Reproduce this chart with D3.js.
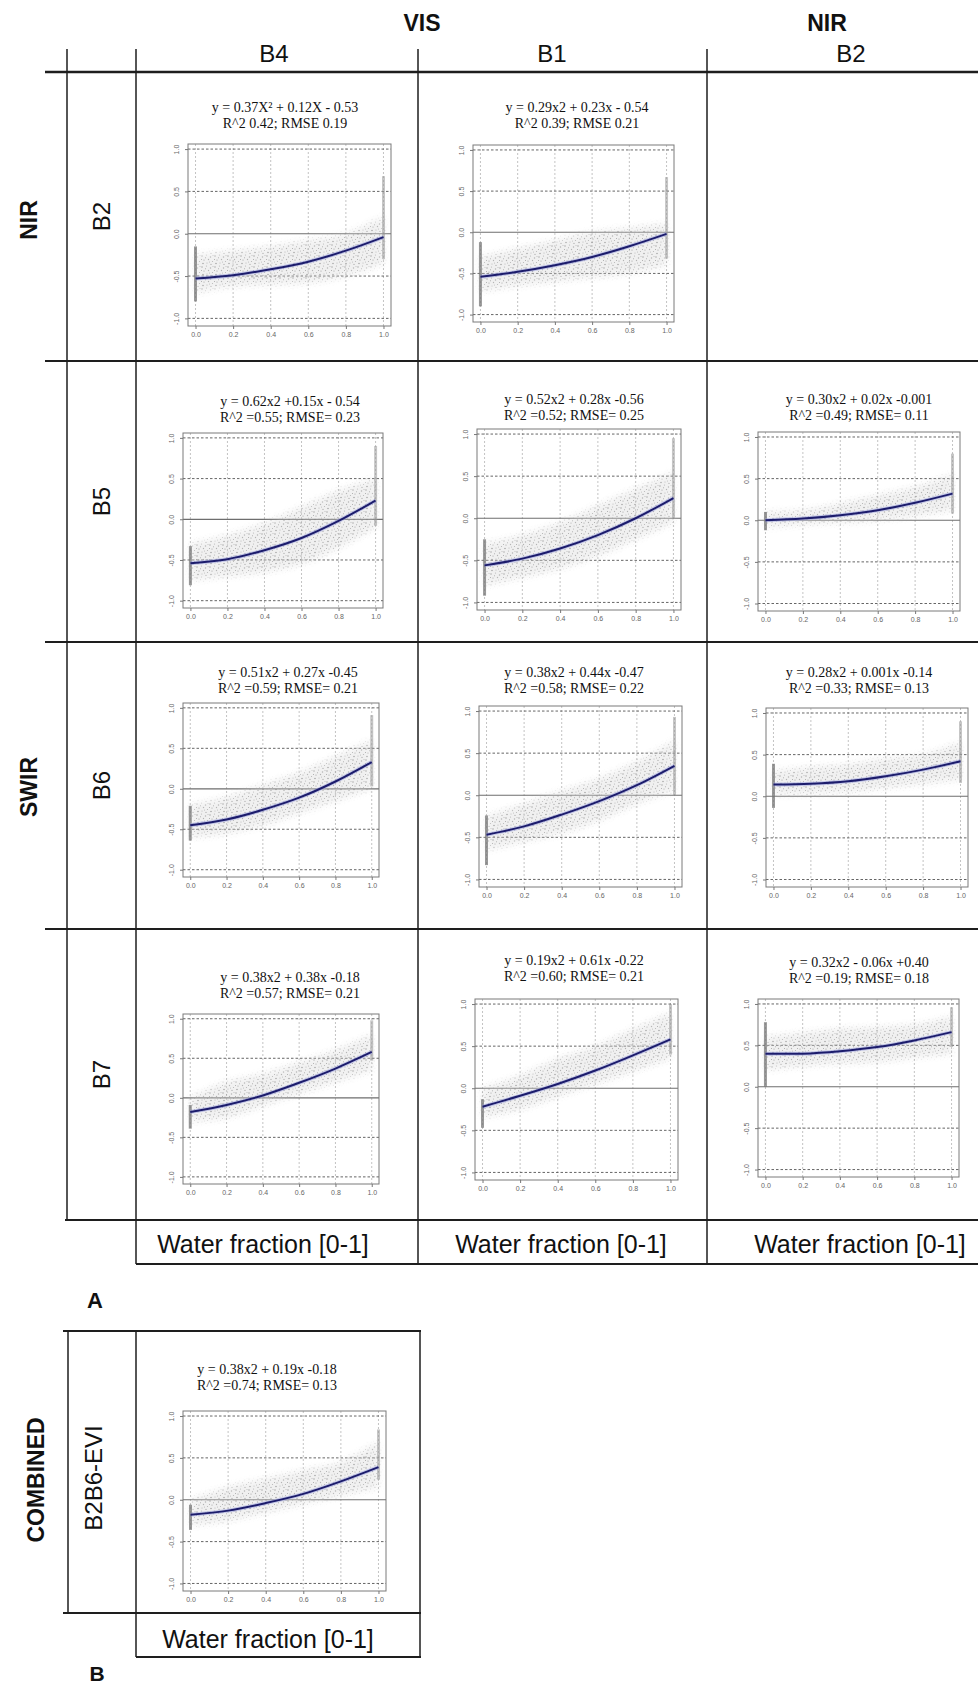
<!DOCTYPE html>
<html>
<head>
<meta charset="utf-8">
<script src="https://cdn.jsdelivr.net/npm/d3@7/dist/d3.min.js"></script>
<style>
  body { margin: 0; background: #fff; }
  svg { display: block; }
</style>
</head>
<body>
<svg id="fig" width="978" height="1688"></svg>
<script>
// ---- values ----
var xKnots = [0, 0.2, 0.4, 0.6, 0.8, 1.0];
var xTickLabels = ["0.0", "0.2", "0.4", "0.6", "0.8", "1.0"];
var yTickValues = [-1, -0.5, 0, 0.5, 1];
var yTickLabels = ["-1.0", "-0.5", "0.0", "0.5", "1.0"];

var columnGroups = ["VIS", "NIR"];
var columnBands = ["B4", "B1", "B2"];
var rowGroups = ["NIR", "SWIR"];
var rowBands = ["B2", "B5", "B6", "B7"];
var xAxisTitle = "Water fraction [0-1]";

// one entry per panel, row by row (B2 row has no B2 column), last = combined index
var panelNames = ["B2-B4", "B2-B1", "B5-B4", "B5-B1", "B5-B2", "B6-B4", "B6-B1", "B6-B2",
                  "B7-B4", "B7-B1", "B7-B2", "B2B6-EVI"];

var equations = [
  "y = 0.37X\u00b2 + 0.12X - 0.53",
  "y = 0.29x2 + 0.23x - 0.54",
  "y = 0.62x2 +0.15x - 0.54",
  "y = 0.52x2 + 0.28x -0.56",
  "y = 0.30x2 + 0.02x -0.001",
  "y = 0.51x2 + 0.27x -0.45",
  "y = 0.38x2 + 0.44x -0.47",
  "y = 0.28x2 + 0.001x -0.14",
  "y = 0.38x2 + 0.38x -0.18",
  "y = 0.19x2 + 0.61x -0.22",
  "y = 0.32x2 - 0.06x +0.40",
  "y = 0.38x2 + 0.19x -0.18"
];
var fitStats = [
  "R^2 0.42; RMSE 0.19",
  "R^2 0.39; RMSE 0.21",
  "R^2 =0.55; RMSE= 0.23",
  "R^2 =0.52; RMSE= 0.25",
  "R^2 =0.49; RMSE= 0.11",
  "R^2 =0.59; RMSE= 0.21",
  "R^2 =0.58; RMSE= 0.22",
  "R^2 =0.33; RMSE= 0.13",
  "R^2 =0.57; RMSE= 0.21",
  "R^2 =0.60; RMSE= 0.21",
  "R^2 =0.19; RMSE= 0.18",
  "R^2 =0.74; RMSE= 0.13"
];

// fitted curve, read at xKnots
var fitCurves = [
  [-0.53, -0.49, -0.42, -0.33, -0.20, -0.04],
  [-0.54, -0.48, -0.40, -0.30, -0.17, -0.02],
  [-0.54, -0.49, -0.38, -0.23, -0.02, 0.23],
  [-0.56, -0.48, -0.36, -0.20, 0.00, 0.24],
  [0.00, 0.02, 0.06, 0.12, 0.21, 0.32],
  [-0.45, -0.38, -0.26, -0.11, 0.09, 0.33],
  [-0.47, -0.37, -0.23, -0.07, 0.12, 0.35],
  [0.14, 0.15, 0.18, 0.24, 0.32, 0.42],
  [-0.18, -0.09, 0.03, 0.19, 0.37, 0.58],
  [-0.22, -0.09, 0.05, 0.21, 0.39, 0.58],
  [0.40, 0.40, 0.43, 0.48, 0.56, 0.66],
  [-0.18, -0.13, -0.04, 0.07, 0.22, 0.39]
];

// lower / upper edge of the point cloud, read at xKnots
var cloudLow = [
  [-0.70, -0.62, -0.60, -0.58, -0.50, -0.35],
  [-0.72, -0.65, -0.60, -0.55, -0.50, -0.40],
  [-0.75, -0.70, -0.65, -0.55, -0.35, -0.10],
  [-0.80, -0.70, -0.60, -0.45, -0.25, -0.05],
  [-0.08, -0.05, -0.03, 0.00, 0.05, 0.12],
  [-0.60, -0.55, -0.45, -0.30, -0.15, 0.00],
  [-0.65, -0.55, -0.45, -0.30, -0.10, 0.05],
  [0.02, 0.03, 0.05, 0.10, 0.15, 0.20],
  [-0.30, -0.25, -0.10, 0.05, 0.20, 0.35],
  [-0.35, -0.25, -0.10, 0.05, 0.20, 0.35],
  [0.20, 0.25, 0.28, 0.30, 0.35, 0.40],
  [-0.30, -0.25, -0.15, -0.05, 0.05, 0.15]
];
var cloudHigh = [
  [-0.25, -0.20, -0.15, -0.08, 0.00, 0.20],
  [-0.30, -0.20, -0.10, 0.00, 0.05, 0.10],
  [-0.30, -0.20, -0.05, 0.15, 0.35, 0.50],
  [-0.30, -0.20, -0.05, 0.15, 0.35, 0.55],
  [0.10, 0.12, 0.20, 0.30, 0.40, 0.55],
  [-0.20, -0.10, 0.05, 0.20, 0.40, 0.60],
  [-0.25, -0.10, 0.05, 0.20, 0.40, 0.65],
  [0.30, 0.35, 0.38, 0.45, 0.50, 0.65],
  [0.00, 0.20, 0.30, 0.45, 0.60, 0.80],
  [0.00, 0.15, 0.35, 0.50, 0.70, 0.90],
  [0.60, 0.65, 0.70, 0.72, 0.75, 0.85],
  [0.00, 0.15, 0.25, 0.35, 0.45, 0.70]
];
// dense vertical strips of points at water fraction 0 and 1: [min, max]
var stripZero = [
  [-0.80, -0.15], [-0.90, -0.12], [-0.81, -0.33], [-0.92, -0.25], [-0.12, 0.10], [-0.64, -0.21],
  [-0.83, -0.24], [-0.14, 0.39], [-0.39, -0.09], [-0.47, -0.13], [0.00, 0.78], [-0.36, -0.06]
];
var stripOne = [
  [-0.30, 0.68], [-0.32, 0.67], [-0.08, 0.90], [0.00, 0.95], [0.08, 0.80], [0.03, 0.91],
  [0.00, 0.93], [0.16, 0.90], [0.47, 0.98], [0.40, 1.00], [0.48, 0.96], [0.24, 0.84]
];

// ---- layout (pixels) ----
var frames = [
  [188, 144, 203, 182], [473, 145, 201, 177],
  [183, 433, 200, 175], [477, 429, 204, 181], [758, 432, 202, 179],
  [183, 703, 196, 174], [479, 706, 203, 181], [766, 708, 202, 179],
  [183, 1014, 196, 170], [475, 999, 203, 181], [758, 999, 201, 178],
  [183, 1411, 203, 180]
];
var eqPos = [
  [285, 107], [577, 107],
  [290, 401], [574, 399], [859, 399],
  [288, 672], [574, 672], [859, 672],
  [290, 977], [574, 960], [859, 962],
  [267, 1369]
];
var colX = [136, 418, 707, 996];
var rowY = [72, 361, 642, 929, 1220];

var SANS = "'Liberation Sans', Arial, sans-serif";
var SERIF = "'Liberation Serif', 'Times New Roman', serif";

var svg = d3.select("#fig");
svg.append("rect").attr("width", 978).attr("height", 1688).attr("fill", "#fff");

var defs = svg.append("defs");
// speckle tile standing in for the thousands of faint points
var pat = defs.append("pattern").attr("id", "speckle")
  .attr("width", 13).attr("height", 11).attr("patternUnits", "userSpaceOnUse");
[[1, 2, 0.7], [5.5, 1, 0.6], [9.5, 3, 0.75], [3, 6, 0.6], [7.5, 5.5, 0.7], [11.5, 7.5, 0.6],
 [2, 9.5, 0.75], [6, 9, 0.55], [10, 10.5, 0.7], [4.5, 3.8, 0.5], [12, 1.5, 0.5], [8.5, 8, 0.5],
 [0.5, 5.5, 0.5]].forEach(function (d, k) {
  pat.append("circle").attr("cx", d[0]).attr("cy", d[1]).attr("r", d[2])
    .attr("fill", k % 3 === 0 ? "#7d7d7d" : "#9a9a9a");
});
defs.append("filter").attr("id", "soft")
  .attr("x", "-20%").attr("y", "-20%").attr("width", "140%").attr("height", "140%")
  .append("feGaussianBlur").attr("stdDeviation", 3);

// ---- table rules ----
var grid = svg.append("g").attr("stroke", "#1e1e1e");
function hline(x1, x2, y, w) {
  grid.append("line").attr("x1", x1).attr("x2", x2).attr("y1", y).attr("y2", y).attr("stroke-width", w);
}
function vline(x, y1, y2, w) {
  grid.append("line").attr("x1", x).attr("x2", x).attr("y1", y1).attr("y2", y2).attr("stroke-width", w);
}
hline(45, 978, rowY[0], 2.5);
hline(45, 978, rowY[1], 2);
hline(45, 978, rowY[2], 2);
hline(45, 978, rowY[3], 2);
hline(65, 978, rowY[4], 2);
hline(136, 978, 1264, 2);
vline(67, 49, rowY[4], 1.5);
vline(colX[0], 49, 1264, 1.5);
vline(colX[1], 49, 1264, 1.5);
vline(colX[2], 49, 1264, 1.5);
// part B box
hline(63, 421, 1331, 2);
hline(63, 421, 1613, 2);
hline(136, 421, 1657, 2);
vline(68, 1331, 1613, 1.5);
vline(136, 1331, 1657, 1.5);
vline(420, 1331, 1657, 1.5);

// ---- header texts ----
function label(x, y, txt, size, bold, rotate) {
  var t = svg.append("text")
    .attr("text-anchor", "middle")
    .attr("dominant-baseline", "central")
    .style("font-family", SANS)
    .style("font-size", size + "px")
    .style("font-weight", bold ? "bold" : "normal")
    .attr("fill", "#111")
    .text(txt);
  if (rotate) t.attr("transform", "translate(" + x + "," + y + ") rotate(-90)");
  else t.attr("x", x).attr("y", y);
  return t;
}
label(422, 23, columnGroups[0], 23, true);
label(827, 23, columnGroups[1], 23, true);
label(274, 53, columnBands[0], 24);
label(552, 53, columnBands[1], 24);
label(851, 53, columnBands[2], 24);

label(29, 220, rowGroups[0], 23, true, true);
label(29, 787, rowGroups[1], 23, true, true);
rowBands.forEach(function (b, i) {
  label(101, (rowY[i] + rowY[i + 1]) / 2, b, 24, false, true);
});
[263, 561, 860].forEach(function (cx) { label(cx, 1244, xAxisTitle, 25); });
label(95, 1300, "A", 22, true);

label(36, 1480, "COMBINED", 23, true, true);
label(93, 1478, panelNames[11], 24, false, true);
label(268, 1639, xAxisTitle, 25);
label(97, 1673, "B", 21, true);

// ---- panels ----
panelNames.forEach(function (name, i) {
  var f = frames[i];
  var g = svg.append("g").attr("class", "panel").attr("transform", "translate(" + f[0] + "," + f[1] + ")");
  var x = d3.scaleLinear().domain([-0.04, 1.04]).range([0, f[2]]);
  var y = d3.scaleLinear().domain([-1.09, 1.06]).range([f[3], 0]);

  // equation text
  var eq = svg.append("g").style("font-family", SERIF).style("font-size", "14px").attr("fill", "#111");
  eq.append("text").attr("x", eqPos[i][0]).attr("y", eqPos[i][1] + 5).attr("text-anchor", "middle").text(equations[i]);
  eq.append("text").attr("x", eqPos[i][0]).attr("y", eqPos[i][1] + 21).attr("text-anchor", "middle").text(fitStats[i]);

  // vertical grid (light dotted)
  g.selectAll(".vg").data(xKnots).enter().append("line")
    .attr("x1", function (d) { return x(d); }).attr("x2", function (d) { return x(d); })
    .attr("y1", 0).attr("y2", f[3])
    .attr("stroke", "#b4b4b4").attr("stroke-width", 0.8).attr("stroke-dasharray", "2,2");
  // horizontal grid (dark dashed) and solid zero line
  g.selectAll(".hg").data(yTickValues).enter().append("line")
    .attr("x1", 0).attr("x2", f[2])
    .attr("y1", function (d) { return y(d); }).attr("y2", function (d) { return y(d); })
    .attr("stroke", function (d) { return d === 0 ? "#6e6e6e" : "#555"; })
    .attr("stroke-width", function (d) { return d === 0 ? 1.2 : 0.9; })
    .attr("stroke-dasharray", function (d) { return d === 0 ? null : "2.5,2"; });

  // point cloud: soft-edged band filled with speckles
  var band = xKnots.map(function (k, j) { return { x: k, lo: cloudLow[i][j], hi: cloudHigh[i][j] }; });
  var area = d3.area()
    .x(function (d) { return x(d.x); })
    .y0(function (d) { return y(d.lo); })
    .y1(function (d) { return y(d.hi); })
    .curve(d3.curveMonotoneX);
  var mask = defs.append("mask").attr("id", "cloud" + i)
    .attr("maskUnits", "userSpaceOnUse")
    .attr("x", -20).attr("y", -20).attr("width", f[2] + 40).attr("height", f[3] + 40);
  mask.append("path").datum(band).attr("d", area).attr("fill", "#fff").attr("filter", "url(#soft)");
  g.append("rect").attr("width", f[2]).attr("height", f[3])
    .attr("fill", "#d6d6d6").attr("opacity", 0.35).attr("mask", "url(#cloud" + i + ")");
  g.append("rect").attr("width", f[2]).attr("height", f[3])
    .attr("fill", "url(#speckle)").attr("opacity", 0.7).attr("mask", "url(#cloud" + i + ")");

  // dense strips at 0 and 1
  g.append("line").attr("x1", x(0)).attr("x2", x(0))
    .attr("y1", y(stripZero[i][0])).attr("y2", y(stripZero[i][1]))
    .attr("stroke", "#777").attr("stroke-width", 3).attr("opacity", 0.75);
  g.append("line").attr("x1", x(1)).attr("x2", x(1))
    .attr("y1", y(stripOne[i][0])).attr("y2", y(stripOne[i][1]))
    .attr("stroke", "#999").attr("stroke-width", 3).attr("opacity", 0.55);

  // fitted curve
  var pts = xKnots.map(function (k, j) { return [k, fitCurves[i][j]]; });
  var line = d3.line()
    .x(function (d) { return x(d[0]); })
    .y(function (d) { return y(d[1]); })
    .curve(d3.curveCatmullRom);
  g.append("path").datum(pts).attr("d", line).attr("fill", "none")
    .attr("stroke", "#9aa0e0").attr("stroke-width", 4).attr("opacity", 0.5);
  g.append("path").datum(pts).attr("d", line).attr("fill", "none")
    .attr("stroke", "#1c1c6c").attr("stroke-width", 2);

  // frame
  g.append("rect").attr("width", f[2]).attr("height", f[3])
    .attr("fill", "none").attr("stroke", "#7a7a7a").attr("stroke-width", 1);

  // axes
  var xa = g.append("g").attr("transform", "translate(0," + f[3] + ")")
    .call(d3.axisBottom(x).tickValues(xKnots).tickSize(3).tickPadding(3)
      .tickFormat(function (d, j) { return xTickLabels[j]; }));
  var ya = g.append("g")
    .call(d3.axisLeft(y).tickValues(yTickValues).tickSize(3).tickPadding(3)
      .tickFormat(function (d, j) { return yTickLabels[j]; }));
  [xa, ya].forEach(function (a) {
    a.select(".domain").remove();
    a.selectAll(".tick line").attr("stroke", "#777");
    a.selectAll("text").attr("fill", "#666").style("font-family", SANS).style("font-size", "7px");
  });
  ya.selectAll("text")
    .attr("text-anchor", "middle")
    .attr("dy", null)
    .attr("x", -9)
    .attr("transform", function () { return "rotate(-90,-9,0)"; });
});
</script>
</body>
</html>
